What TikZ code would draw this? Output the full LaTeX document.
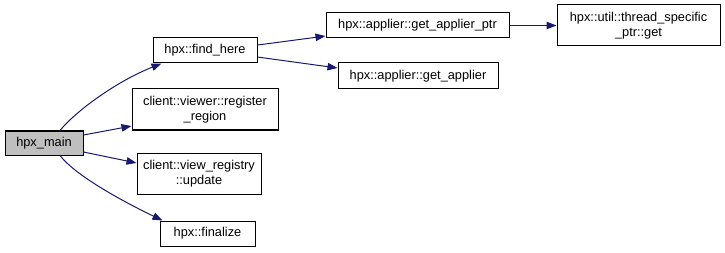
\documentclass[tikz,border=0pt]{standalone}
\usepackage{fontspec}
\setmainfont{Liberation Sans}
\usetikzlibrary{arrows.meta}
\definecolor{edgeblue}{HTML}{191970}
\definecolor{rootgray}{HTML}{BFBFBF}
\begin{document}
\begin{tikzpicture}[x=0.75pt,y=-0.75pt,
  fn/.style={draw=black,line width=0.75pt,fill=white,inner sep=0pt,align=center,
    font=\fontsize{9.6}{11.2}\selectfont},
  root/.style={fn,fill=rootgray},
  call/.style={draw=edgeblue,line width=0.75pt,
    -{Triangle[length=7.5pt,width=5.6pt,fill=edgeblue]}}]
\useasboundingbox (0,0) rectangle (725,253);
% function boxes
\node[root,minimum width=58.5pt,minimum height=18pt] (main) at (44,143) {hpx\_main};
\node[fn,minimum width=78pt,minimum height=18.75pt] (find) at (205,50.5) {hpx::find\_here};
\node[fn,minimum width=109.5pt,minimum height=30.75pt] (reg) at (205,109.5) {client::viewer::register\\\_region};
\node[fn,minimum width=93pt,minimum height=30.75pt] (upd) at (199,173.5) {client::view\_registry\\::update};
\node[fn,minimum width=71.25pt,minimum height=18.75pt] (fin) at (207.5,233.5) {hpx::finalize};
\node[fn,minimum width=137.25pt,minimum height=18.75pt] (ptr) at (417.5,25.5) {hpx::applier::get\_applier\_ptr};
\node[fn,minimum width=120pt,minimum height=19.5pt] (app) at (418,76) {hpx::applier::get\_applier};
\node[fn,minimum width=122.25pt,minimum height=30.75pt] (tsp) at (638.5,25.5) {hpx::util::thread\_specific\\\_ptr::get};
% call edges
\draw[call] ([xshift=12pt]main.north) .. controls (75,112) and (115,82) .. ([xshift=6.75pt]find.south west);
\draw[call] ([yshift=6pt]main.east) -- ([yshift=-12.4pt]reg.west);
\draw[call] ([yshift=-6.75pt]main.east) -- ([yshift=7.9pt]upd.west);
\draw[call] ([xshift=12pt]main.south) .. controls (75,175) and (120,200) .. ([xshift=2.25pt]fin.north west);
\draw[call] ([yshift=4.1pt]find.east) -- ([yshift=-7.9pt]ptr.west);
\draw[call] ([yshift=-4.9pt]find.east) -- ([yshift=6pt]app.west);
\draw[call] (ptr) -- (tsp);
\end{tikzpicture}
\end{document}
